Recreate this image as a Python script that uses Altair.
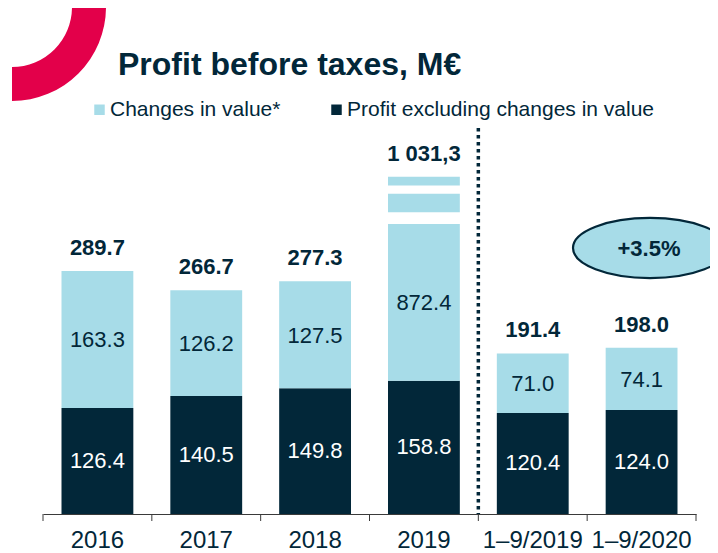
import math
import altair as alt
import pandas as pd

# ---------------- data ----------------
categories = ["2016", "2017", "2018", "2019", "1–9/2019", "1–9/2020"]
profit_excl = [126.4, 140.5, 149.8, 158.8, 120.4, 124.0]
changes = [163.3, 126.2, 127.5, 872.4, 71.0, 74.1]
total_labels = ["289.7", "266.7", "277.3", "1 031,3", "191.4", "198.0"]
change_labels = ["163.3", "126.2", "127.5", "872.4", "71.0", "74.1"]
profit_labels = ["126.4", "140.5", "149.8", "158.8", "120.4", "124.0"]
series_names = ["Changes in value*", "Profit excluding changes in value"]
badge_text = "+3.5%"

# broken (truncated) bar for 2019: displayed cap and gaps, in value units
broken_category = "2019"
display_cap = 402.0
break_gaps = [(345.5, 359.5), (381.5, 391.5)]

# ---------------- styling ----------------
NAVY = "#022739"
LIGHT = "#a7dce8"
RED = "#e3004a"
FONT = "Liberation Sans"
W, H = 653, 506
YMAX = 603
STEP = W / len(categories)

# ---------------- tables ----------------
seg_rows, lab_rows = [], []
for c, p, ch, tl, cl, pl in zip(categories, profit_excl, changes,
                                total_labels, change_labels, profit_labels):
    seg_rows.append(dict(cat=c, series=series_names[1], y0=0.0, y1=p))
    lab_rows.append(dict(cat=c, y=p / 2, text=pl, kind="dark"))
    if c == broken_category:
        edges = [p]
        for a, b in break_gaps:
            edges += [a, b]
        edges.append(display_cap)
        pieces = list(zip(edges[0::2], edges[1::2]))
        for a, b in pieces:
            seg_rows.append(dict(cat=c, series=series_names[0], y0=a, y1=b))
        first = pieces[0]
        lab_rows.append(dict(cat=c, y=(first[0] + first[1]) / 2, text=cl, kind="light"))
        lab_rows.append(dict(cat=c, y=display_cap, text=tl, kind="total"))
    else:
        seg_rows.append(dict(cat=c, series=series_names[0], y0=p, y1=p + ch))
        lab_rows.append(dict(cat=c, y=p + ch / 2, text=cl, kind="light"))
        lab_rows.append(dict(cat=c, y=p + ch, text=tl, kind="total"))

segs = pd.DataFrame(seg_rows)
labs = pd.DataFrame(lab_rows)
cats = pd.DataFrame({"cat": categories})

xscale = alt.Scale(domain=categories, paddingInner=0.34, paddingOuter=0.17)
yscale = alt.Scale(domain=[0, YMAX], nice=False, zero=True)

x_axis = alt.Axis(title=None, ticks=False, labelAngle=0, labelFontSize=24,
                  labelFont=FONT, labelColor=NAVY, labelPadding=14,
                  domainColor="#3a3a3a", domainWidth=1, grid=False)
X = alt.X("cat:N", scale=xscale, axis=x_axis, sort=categories)

bars = alt.Chart(segs).mark_bar().encode(
    x=X,
    y=alt.Y("y0:Q", scale=yscale, axis=None),
    y2="y1:Q",
    color=alt.Color(
        "series:N",
        scale=alt.Scale(domain=series_names, range=[LIGHT, NAVY]),
        legend=alt.Legend(
            title=None, orient="none", legendX=46, legendY=91,
            direction="horizontal", symbolType="square", symbolSize=110,
            symbolStrokeWidth=0, labelFontSize=21, labelFont=FONT,
            labelColor=NAVY, columnPadding=45, labelOffset=0, padding=0,
            labelLimit=0,
        ),
    ),
)

inner_light = alt.Chart(labs[labs.kind == "light"]).mark_text(
    fontSize=22, font=FONT, color=NAVY, baseline="middle", dy=1
).encode(x=X, y=alt.Y("y:Q", scale=yscale, axis=None), text="text:N")

inner_dark = alt.Chart(labs[labs.kind == "dark"]).mark_text(
    fontSize=22, font=FONT, color="white", baseline="middle"
).encode(x=X, y=alt.Y("y:Q", scale=yscale, axis=None), text="text:N")

totals = alt.Chart(labs[labs.kind == "total"]).mark_text(
    fontSize=22, font=FONT, fontWeight="bold", color=NAVY,
    baseline="alphabetic", dy=-16
).encode(x=X, y=alt.Y("y:Q", scale=yscale, axis=None), text="text:N")

ticks = alt.Chart(cats).mark_rule(color="#3a3a3a", xOffset=-STEP / 2).encode(
    x=X, y=alt.value(H), y2=alt.value(H + 7))
tick_end = alt.Chart(cats.tail(1)).mark_rule(color="#3a3a3a", xOffset=STEP / 2).encode(
    x=X, y=alt.value(H), y2=alt.value(H + 7))

divider = alt.Chart(pd.DataFrame({"cat": [categories[4]]})).mark_rule(
    color=NAVY, strokeWidth=3.5, strokeDash=[3.5, 3.5], xOffset=-STEP / 2
).encode(x=X, y=alt.value(120), y2=alt.value(H))

ellipse_path = "M-1,0 A1,0.39,0,1,1,1,0 A1,0.39,0,1,1,-1,0 Z"
badge = alt.Chart(pd.DataFrame({"t": [badge_text]})).mark_point(
    shape=ellipse_path, size=154 * 154, filled=True, fill=LIGHT,
    stroke=NAVY, strokeWidth=2.2, opacity=1
).encode(x=alt.value(607), y=alt.value(240))
badge_txt = alt.Chart(pd.DataFrame({"t": [badge_text]})).mark_text(
    fontSize=22, font=FONT, fontWeight="bold", color=NAVY, baseline="middle"
).encode(x=alt.value(606), y=alt.value(241), text="t:N")

title = alt.Chart(pd.DataFrame({"t": ["Profit before taxes, M€"]})).mark_text(
    fontSize=32, font=FONT, fontWeight="bold", color=NAVY,
    align="left", baseline="alphabetic"
).encode(x=alt.value(75), y=alt.value(67), text="t:N")

arc = alt.Chart(pd.DataFrame({"a": [1]})).mark_arc(
    radius=94, radius2=60, theta=math.pi / 2, theta2=math.pi, color=RED
).encode(x=alt.value(-31), y=alt.value(-1))

chart = alt.layer(
    bars, arc, inner_light, inner_dark, totals, ticks, tick_end, divider,
    badge, badge_txt, title
).properties(
    width=W, height=H,
    autosize=alt.AutoSizeParams(type="none"),
    padding={"left": 35, "top": 0, "right": 14, "bottom": 39},
).configure_view(stroke=None)

chart.save("out.html", embed_options={"renderer": "svg", "actions": False})
